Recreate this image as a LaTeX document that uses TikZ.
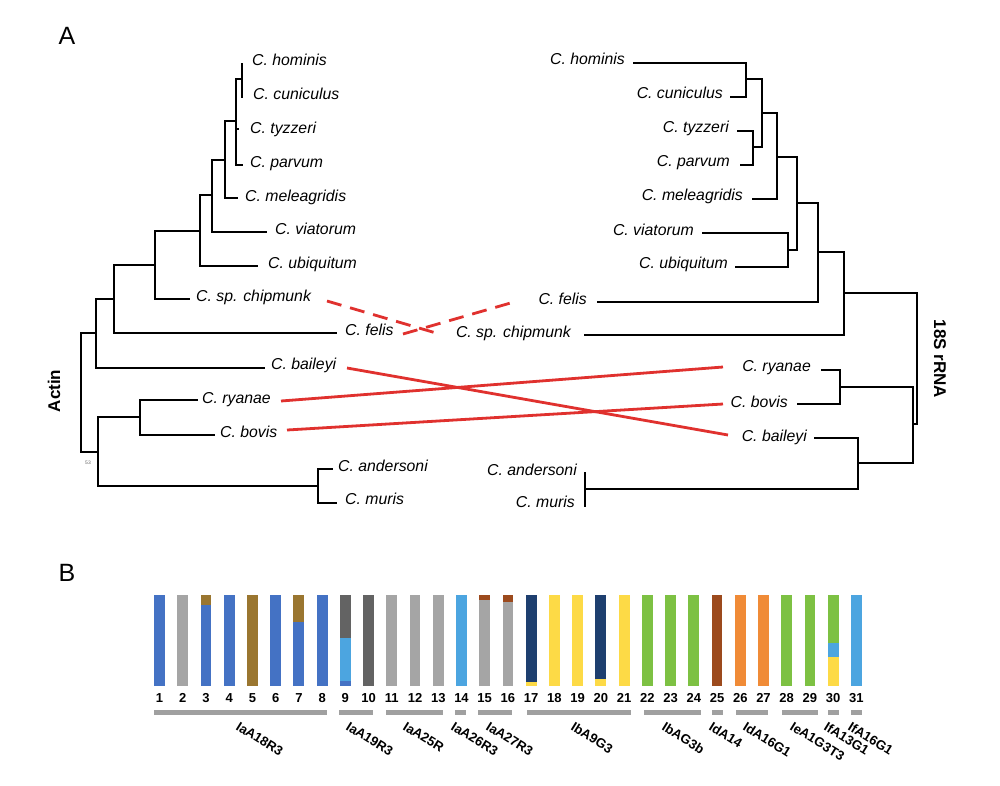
\documentclass[tikz,border=0pt]{standalone}
\usepackage{fontspec}
\setmainfont{Liberation Sans}
\definecolor{cblue}{HTML}{4472C4}
\definecolor{cgray}{HTML}{A5A5A5}
\definecolor{cgold}{HTML}{9A7630}
\definecolor{cdgray}{HTML}{636363}
\definecolor{clblue}{HTML}{4CA5E0}
\definecolor{cnavy}{HTML}{1E3F6F}
\definecolor{cyel}{HTML}{FDDA46}
\definecolor{cgreen}{HTML}{7DC143}
\definecolor{cbrown}{HTML}{9C4A1D}
\definecolor{corange}{HTML}{F08B37}
\definecolor{cgrp}{HTML}{A0A0A0}
\definecolor{cred}{HTML}{E0312E}
\begin{document}
\begin{tikzpicture}[x=1pt,y=-1pt,
  br/.style={line width=1.3pt,black},
  leafl/.style={anchor=base west,inner sep=0pt,font=\fontsize{15.8}{18}\selectfont\itshape},
  leafr/.style={anchor=base east,inner sep=0pt,font=\fontsize{15.8}{18}\selectfont\itshape},
  redline/.style={line width=2.8pt,cred},
  reddash/.style={line width=2.8pt,cred,dash pattern=on 15pt off 9pt},
  treelab/.style={font=\fontsize{17}{20}\selectfont\bfseries,inner sep=0pt},
  panel/.style={font=\fontsize{25}{28}\selectfont,inner sep=0pt},
  numlab/.style={anchor=base,inner sep=0pt,font=\fontsize{13}{15}\selectfont\bfseries},
  grplab/.style={anchor=north west,rotate=-32,inner sep=0pt,font=\fontsize{13.2}{15}\selectfont\bfseries}
]
\useasboundingbox[fill=white] (0,0) rectangle (1000,785);

% panel letters
\node[panel] (pA) at (67,36) {A};
\node[panel] (pB) at (67,573) {B};

% ---------------- left tree (Actin) ----------------
\coordinate (lhom) at (242,63);
\coordinate (lcun) at (242,98);
\coordinate (lhc) at (242,79);
\coordinate (ltyz) at (239,129);
\coordinate (lpar) at (243,165);
\coordinate (lA) at (236,121);
\coordinate (lmel) at (238,198);
\coordinate (lB) at (225,160);
\coordinate (lvia) at (267,232);
\coordinate (lC) at (212,195);
\coordinate (lubi) at (258,266);
\coordinate (lD) at (200,231);
\coordinate (lchi) at (190,299);
\coordinate (lE) at (155,265);
\coordinate (lfel) at (337,333);
\coordinate (lF) at (114,299);
\coordinate (lbai) at (265,368);
\coordinate (lG) at (96,333);
\coordinate (lrya) at (198,400);
\coordinate (lbov) at (215,435);
\coordinate (lI) at (140,417);
\coordinate (land) at (333,469);
\coordinate (lmur) at (337,503);
\coordinate (lJ) at (318,486);
\coordinate (lH) at (98,452);
\coordinate (lR) at (81,392);

\draw[br] (lhc) |- (lhom) (lhc) |- (lcun);
\draw[br] (lA) |- (lhc) (lA) |- (ltyz) (lA) |- (lpar);
\draw[br] (lB) |- (lA) (lB) |- (lmel);
\draw[br] (lC) |- (lB) (lC) |- (lvia);
\draw[br] (lD) |- (lC) (lD) |- (lubi);
\draw[br] (lE) |- (lD) (lE) |- (lchi);
\draw[br] (lF) |- (lE) (lF) |- (lfel);
\draw[br] (lG) |- (lF) (lG) |- (lbai);
\draw[br] (lI) |- (lrya) (lI) |- (lbov);
\draw[br] (lJ) |- (land) (lJ) |- (lmur);
\draw[br] (lH) |- (lI) (lH) |- (lJ);
\draw[br] (lR) |- (lG) (lR) |- (lH);

\node[leafl] (tlhom) at (252,65) {C. hominis};
\node[leafl] (tlcun) at (253,99) {C. cuniculus};
\node[leafl] (tltyz) at (250,133) {C. tyzzeri};
\node[leafl] (tlpar) at (250,167) {C. parvum};
\node[leafl] (tlmel) at (245,201) {C. meleagridis};
\node[leafl] (tlvia) at (275,234) {C. viatorum};
\node[leafl] (tlubi) at (268,268) {C. ubiquitum};
\node[leafl] (tlchi) at (196,301) {C. sp. chipmunk};
\node[leafl] (tlfel) at (345,335) {C. felis};
\node[leafl] (tlbai) at (271,369) {C. baileyi};
\node[leafl] (tlrya) at (202,403) {C. ryanae};
\node[leafl] (tlbov) at (220,437) {C. bovis};
\node[leafl] (tland) at (338,471) {C. andersoni};
\node[leafl] (tlmur) at (345,504) {C. muris};

\node[inner sep=0pt,font=\fontsize{5}{6}\selectfont,text=black!60] (boot) at (88,463) {53};
\node[treelab,rotate=90] (actin) at (54,391) {Actin};

% ---------------- right tree (18S rRNA) ----------------
\coordinate (rhom) at (633,63);
\coordinate (rcun) at (730,97);
\coordinate (rHC) at (746,79);
\coordinate (rtyz) at (737,131);
\coordinate (rpar) at (740,165);
\coordinate (rTP) at (753,147);
\coordinate (rA) at (762,113);
\coordinate (rmel) at (752,199);
\coordinate (rB) at (777,157);
\coordinate (rvia) at (702,233);
\coordinate (rubi) at (735,267);
\coordinate (rVU) at (788,250);
\coordinate (rC) at (797,203);
\coordinate (rfel) at (597,302);
\coordinate (rD) at (818,252);
\coordinate (rchi) at (584,335);
\coordinate (rE) at (844,293);
\coordinate (rrya) at (821,370);
\coordinate (rbov) at (797,404);
\coordinate (rG) at (840,387);
\coordinate (rbai) at (814,438);
\coordinate (rand) at (585,472);
\coordinate (rmur) at (585,507);
\coordinate (rAM) at (585,489);
\coordinate (rH) at (858,463);
\coordinate (rF) at (913,424);
\coordinate (rR) at (917,358);

\draw[br] (rHC) |- (rhom) (rHC) |- (rcun);
\draw[br] (rTP) |- (rtyz) (rTP) |- (rpar);
\draw[br] (rA) |- (rHC) (rA) |- (rTP);
\draw[br] (rB) |- (rA) (rB) |- (rmel);
\draw[br] (rVU) |- (rvia) (rVU) |- (rubi);
\draw[br] (rC) |- (rB) (rC) |- (rVU);
\draw[br] (rD) |- (rC) (rD) |- (rfel);
\draw[br] (rE) |- (rD) (rE) |- (rchi);
\draw[br] (rG) |- (rrya) (rG) |- (rbov);
\draw[br] (rAM) |- (rand) (rAM) |- (rmur);
\draw[br] (rH) |- (rbai) (rH) |- (rAM);
\draw[br] (rF) |- (rG) (rF) |- (rH);
\draw[br] (rR) |- (rE) (rR) |- (rF);

\node[leafr] (trhom) at (625,64) {C. hominis};
\node[leafr] (trcun) at (723,98) {C. cuniculus};
\node[leafr] (trtyz) at (729,132) {C. tyzzeri};
\node[leafr] (trpar) at (730,166) {C. parvum};
\node[leafr] (trmel) at (743,200) {C. meleagridis};
\node[leafr] (trvia) at (694,235) {C. viatorum};
\node[leafr] (trubi) at (728,268) {C. ubiquitum};
\node[leafr] (trfel) at (587,304) {C. felis};
\node[leafr] (trchi) at (571,337) {C. sp. chipmunk};
\node[leafr] (trrya) at (811,371) {C. ryanae};
\node[leafr] (trbov) at (788,407) {C. bovis};
\node[leafr] (trbai) at (807,441) {C. baileyi};
\node[leafr] (trand) at (577,475) {C. andersoni};
\node[leafr] (trmur) at (575,507) {C. muris};

\node[treelab,rotate=-90] (rrna) at (940,359) {18S rRNA};

% ---------------- red links ----------------
\coordinate (kchiL) at (327,301);
\coordinate (kchiR) at (436,333);
\coordinate (kfelL) at (403,334);
\coordinate (kfelR) at (514,302);
\coordinate (kbaiL) at (347,368);
\coordinate (kbaiR) at (728,435);
\coordinate (kryaL) at (281,401);
\coordinate (kryaR) at (723,367);
\coordinate (kbovL) at (287,430);
\coordinate (kbovR) at (723,404);
\draw[reddash] (kchiL) -- (kchiR);
\draw[reddash] (kfelL) -- (kfelR);
\draw[redline] (kbaiL) -- (kbaiR);
\draw[redline] (kryaL) -- (kryaR);
\draw[redline] (kbovL) -- (kbovR);

% ---------------- panel B bars ----------------
\foreach \n/\t/\b/\c in {
  1/595/686/cblue, 2/595/686/cgray, 3/595/605/cgold, 3/605/686/cblue,
  4/595/686/cblue, 5/595/686/cgold, 6/595/686/cblue, 7/595/622/cgold, 7/622/686/cblue,
  8/595/686/cblue, 9/595/638/cdgray, 9/638/681/clblue, 9/681/686/cblue,
  10/595/686/cdgray, 11/595/686/cgray, 12/595/686/cgray, 13/595/686/cgray,
  14/595/686/clblue, 15/595/600/cbrown, 15/600/686/cgray, 16/595/602/cbrown, 16/602/686/cgray,
  17/595/682/cnavy, 17/682/686/cyel, 18/595/686/cyel, 19/595/686/cyel,
  20/595/679/cnavy, 20/679/686/cyel, 21/595/686/cyel,
  22/595/686/cgreen, 23/595/686/cgreen, 24/595/686/cgreen, 25/595/686/cbrown,
  26/595/686/corange, 27/595/686/corange, 28/595/686/cgreen, 29/595/686/cgreen,
  30/595/643/cgreen, 30/643/657/clblue, 30/657/686/cyel, 31/595/686/clblue}
{
  \pgfmathsetmacro\bx{159.5+(\n-1)*23.23}
  \fill[\c] (\bx-5.4,\t) rectangle (\bx+5.4,\b);
}
\foreach \n in {1,...,31}{
  \pgfmathsetmacro\bx{159.5+(\n-1)*23.23}
  \node[numlab] (num\n) at (\bx,702) {\n};
}

% group bars and labels
\foreach \a/\b/\lx/\lab in {
  154/327/240/IaA18R3, 339/373/350/IaA19R3, 386/443/407/IaA25R, 455/466/455/IaA26R3,
  478/512/490/IaA27R3, 527/631/575/IbA9G3, 644/701/666/IbAG3b, 712/723/713/IdA14,
  736/768/747/IdA16G1, 782/818/794/IeA1G3T3, 828/839/828/IfA13G1, 851/862/852/IfA16G1}
{
  \fill[cgrp] (\a,709.5) rectangle (\b,714.5);
  \node[grplab] (g\lab) at (\lx,721) {\lab};
}
\end{tikzpicture}
\end{document}
